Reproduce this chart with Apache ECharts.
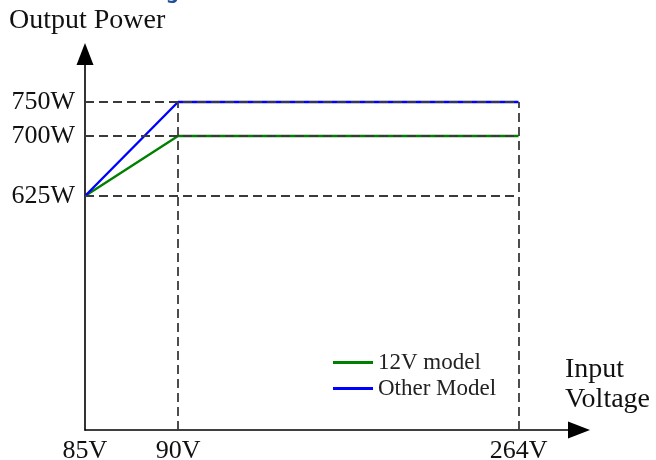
<!DOCTYPE html>
<html>
<head>
<meta charset="utf-8">
<script src="https://cdn.jsdelivr.net/npm/echarts@6/dist/echarts.min.js"></script>
<style>
  html, body { margin: 0; padding: 0; background: #fff; }
  #chart { width: 656px; height: 460px; }
</style>
</head>
<body>
<div id="chart"></div>
<script>
// schematic chart: the axes are not to scale, so each tick gets a slot on its axis
const voltages = [85, 90, 264]
const voltageLabels = ['85V', '90V', '264V']
const voltageSlots = [0, 1, 4.66]

const powers = [625, 700, 750]
const powerLabels = ['625W', '700W', '750W']
const powerSlots = [2.34, 2.94, 3.28]

const model12V = [625, 700, 700]
const otherModel = [625, 750, 750]

const xSlot = (v) => voltageSlots[voltages.indexOf(v)]
const ySlot = (p) => powerSlots[powers.indexOf(p)]
const toPoints = (vals) => voltages.map((v, i) => [xSlot(v), ySlot(vals[i])])

const serif = '"Liberation Serif", "DejaVu Serif", serif'
const dashStyle = { color: '#3a3a3a', width: 1.8, type: [9, 5] }

// guide lines: every power level across to the last voltage, plus verticals at 90V and 264V
const guides = [
  ...powers.map((p) => [{ coord: [0, ySlot(p)] }, { coord: [xSlot(264), ySlot(p)] }]),
  [{ coord: [xSlot(90), 0] }, { coord: [xSlot(90), ySlot(750)] }],
  [{ coord: [xSlot(264), 0] }, { coord: [xSlot(264), ySlot(750)] }],
]

const chart = echarts.init(document.getElementById('chart'), null, { renderer: 'canvas' })

const option = {
  animation: false,
  title: {
    text: 'Output Power',
    left: 9,
    top: 7,
    padding: 0,
    textStyle: { fontFamily: serif, fontSize: 28, fontWeight: 'normal', color: '#111' },
  },
  graphic: [
    {
      type: 'text',
      right: 477,
      top: -18,
      style: { text: 'Derating', font: 'bold 20px "Noto Sans"', fill: '#1f4e9a' },
    },
    {
      type: 'text',
      left: 565,
      top: 355,
      style: { text: 'Input\nVoltage', font: '28px ' + serif, fill: '#111', lineHeight: 30 },
    },
  ],
  legend: {
    orient: 'vertical',
    left: 333,
    top: 351,
    padding: 0,
    icon: 'rect',
    itemWidth: 40,
    itemHeight: 3,
    itemGap: 3,
    textStyle: { fontFamily: serif, fontSize: 23, lineHeight: 23, color: '#222' },
    data: ['12V model', 'Other Model'],
  },
  grid: { left: 85, right: 77, top: 54, bottom: 30, containLabel: false, outerBoundsMode: 'none' },
  xAxis: {
    type: 'value',
    min: 0,
    max: 5.31,
    splitLine: { show: false },
    axisTick: { show: false },
    axisLine: {
      show: true,
      symbol: ['none', 'triangle'],
      symbolSize: [17, 22],
      lineStyle: { color: '#000', width: 1.6 },
    },
    axisLabel: {
      customValues: voltageSlots,
      formatter: (v) => voltageLabels[voltageSlots.indexOf(v)] || '',
      fontFamily: serif,
      fontSize: 26,
      color: '#111',
      margin: 8,
      showMinLabel: true,
      showMaxLabel: true,
    },
  },
  yAxis: {
    type: 'value',
    min: 0,
    max: 3.76,
    splitLine: { show: false },
    axisTick: { show: false },
    axisLine: {
      show: true,
      symbol: ['none', 'triangle'],
      symbolSize: [17, 22],
      lineStyle: { color: '#000', width: 1.6 },
    },
    axisLabel: {
      customValues: powerSlots,
      formatter: (v) => powerLabels[powerSlots.indexOf(v)] || '',
      fontFamily: serif,
      fontSize: 26,
      color: '#111',
      margin: 10,
    },
  },
  series: [
    {
      name: 'guides',
      type: 'line',
      data: [],
      silent: true,
      markLine: {
        silent: true,
        symbol: 'none',
        label: { show: false },
        lineStyle: dashStyle,
        data: guides,
      },
    },
    {
      name: '12V model',
      type: 'line',
      data: toPoints(model12V),
      symbol: 'none',
      lineStyle: { color: '#008000', width: 2.4 },
      itemStyle: { color: '#008000' },
      z: 3,
    },
    {
      name: 'Other Model',
      type: 'line',
      data: toPoints(otherModel),
      symbol: 'none',
      lineStyle: { color: '#0000ff', width: 2.4 },
      itemStyle: { color: '#0000ff' },
      z: 4,
    },
  ],
}

chart.setOption(option)
</script>
</body>
</html>
